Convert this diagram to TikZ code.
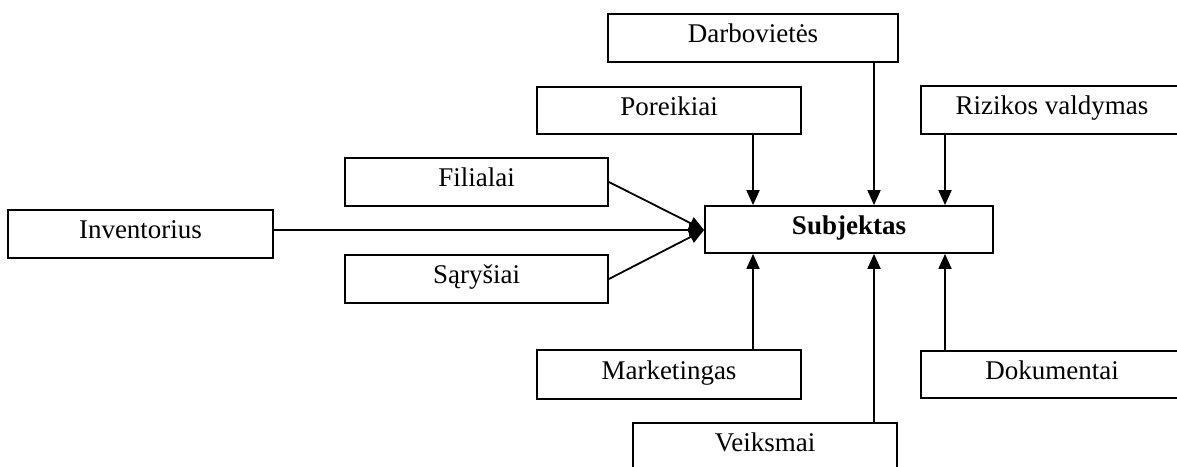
\documentclass[tikz,border=0pt]{standalone}
\usepackage{fontspec}
\setmainfont{Liberation Serif}
\usetikzlibrary{arrows.meta}
\begin{document}
\begin{tikzpicture}[x=1pt,y=-1pt,
  box/.style={draw,line width=1.8pt,inner sep=0pt,text height=18pt,text depth=9pt,
    font=\fontsize{27}{31}\selectfont},
  arr/.style={line width=1.8pt,-{Triangle[length=15pt,width=13pt]}}]
\path[use as bounding box,clip] (0,0) rectangle (1177,466);
\fill[white] (0,0) rectangle (1177,466);
\node[box,minimum width=265pt,minimum height=48pt] (inv) at (140.5,234) {Inventorius};
\node[box,minimum width=263pt,minimum height=48pt] (fil) at (476.5,182) {Filialai};
\node[box,minimum width=263pt,minimum height=48pt] (sar) at (476.5,279) {Sąryšiai};
\node[box,minimum width=290pt,minimum height=48pt] (darb) at (753,38) {Darbovietės};
\node[box,minimum width=264pt,minimum height=47pt] (por) at (669,110.5) {Poreikiai};
\node[box,minimum width=262pt,minimum height=48pt] (riz) at (1052,110) {Rizikos valdymas};
\node[box,minimum width=288pt,minimum height=47pt] (subj) at (849,229.5) {\bfseries Subjektas};
\node[box,minimum width=264pt,minimum height=49pt] (mark) at (669,374.5) {Marketingas};
\node[box,minimum width=262pt,minimum height=47pt] (dok) at (1052,374.5) {Dokumentai};
\node[box,minimum width=264pt,minimum height=48pt] (veik) at (765,447) {Veiksmai};
\coordinate (xa) at (753,0);
\coordinate (xb) at (874,0);
\coordinate (xc) at (945,0);
\coordinate (ly) at (0,230);
% left inputs
\draw[arr] (inv.east |- ly) -- (subj.west |- ly);
\draw[arr] (fil.east) -- (subj.west |- ly);
\draw[arr] (sar.east) -- (subj.west |- ly);
% top inputs
\draw[arr] (por.south -| xa) -- (subj.north -| xa);
\draw[arr] (darb.south -| xb) -- (subj.north -| xb);
\draw[arr] (riz.south -| xc) -- (subj.north -| xc);
% bottom inputs
\draw[arr] (mark.north -| xa) -- (subj.south -| xa);
\draw[arr] (veik.north -| xb) -- (subj.south -| xb);
\draw[arr] (dok.north -| xc) -- (subj.south -| xc);
\end{tikzpicture}
\end{document}
